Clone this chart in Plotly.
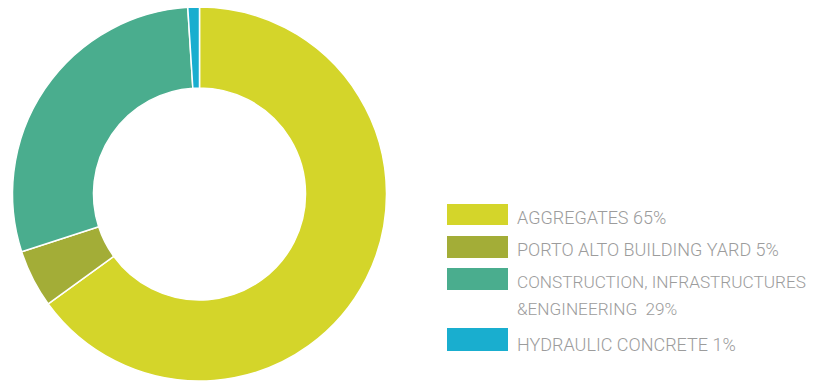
import plotly.graph_objects as go

categories = ["AGGREGATES", "PORTO ALTO BUILDING YARD", "CONSTRUCTION, INFRASTRUCTURES &amp;ENGINEERING", "HYDRAULIC CONCRETE"]
values = [65, 5, 29, 1]
colors = ["#D4D52A", "#A3AD37", "#4AAD8E", "#19AECF"]
legend_lines = [["AGGREGATES 65%"], ["PORTO ALTO BUILDING YARD 5%"],
                ["CONSTRUCTION, INFRASTRUCTURES", "&amp;ENGINEERING  29%"], ["HYDRAULIC CONCRETE 1%"]]

W, H = 815, 383

fig = go.Figure(go.Pie(
    labels=categories, values=values, hole=0.567, sort=False,
    direction="clockwise", rotation=0,
    marker=dict(colors=colors, line=dict(color="white", width=1.5)),
    textinfo="none", hoverinfo="label+percent", showlegend=False,
    domain=dict(x=[12.5 / W, 386.5 / W], y=[2 / H, 376 / H]),
))

# legend swatches (pixel rows) and text line centres
sw = [(204, 225), (236, 258), (268, 290), (328, 351)]
txt_y = [[217], [249], [282, 308.5], [344]]
sizes = [18, 18, 17.2, 18]
shapes, annots = [], []
for i, lines in enumerate(legend_lines):
    y0, y1 = sw[i]
    shapes.append(dict(type="rect", xref="paper", yref="paper",
                       x0=447 / W, x1=508 / W, y0=1 - y1 / H, y1=1 - y0 / H,
                       fillcolor=colors[i], line=dict(width=0)))
    for ln, ty in zip(lines, txt_y[i]):
        annots.append(dict(text=ln, xref="paper", yref="paper", x=515 / W, y=1 - ty / H,
                           xanchor="left", yanchor="middle", align="left", showarrow=False,
                           font=dict(family="Roboto", size=sizes[i], color="#9c9c9c", weight=300)))

fig.update_layout(width=W, height=H, margin=dict(l=0, r=0, t=0, b=0),
                  paper_bgcolor="white", plot_bgcolor="white",
                  shapes=shapes, annotations=annots)
fig.write_html("out.html")
